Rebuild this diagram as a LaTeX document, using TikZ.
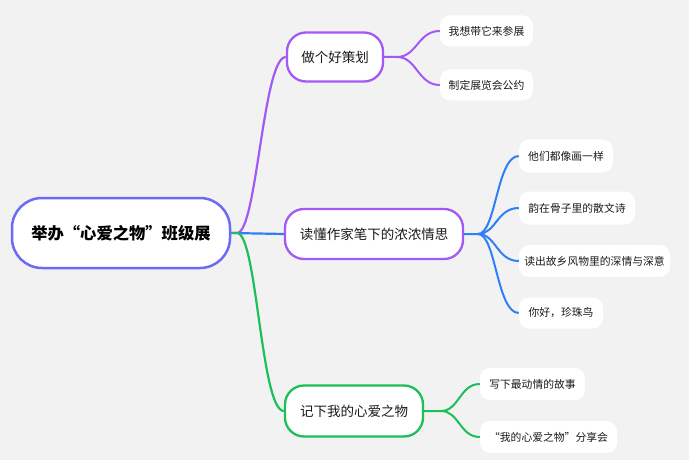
\documentclass[tikz,border=0pt]{standalone}
\usepackage{fontspec}
\setmainfont{Noto Sans CJK SC}
\definecolor{bgc}{HTML}{F2F2F2}
\definecolor{rootc}{HTML}{6B6BF7}
\definecolor{purc}{HTML}{A259F5}
\definecolor{bluc}{HTML}{2F80F7}
\definecolor{grnc}{HTML}{1DBF5A}
\definecolor{txtc}{HTML}{1A1A1A}
\tikzset{
  rootbox/.style={draw=rootc, line width=2.5pt, fill=white, rounded corners=30pt, minimum width=218pt, minimum height=70pt, inner sep=0pt, font=\fontsize{16.3}{20}\selectfont\bfseries, text=black},
  branchbox/.style={draw=#1, line width=2.3pt, fill=white, rounded corners=19pt, minimum height=49pt, inner sep=0pt, font=\fontsize{13.5}{16}\selectfont, text=txtc},
  leafbox/.style={fill=white, rounded corners=10pt, minimum height=31pt, inner sep=0pt, font=\fontsize{10.8}{13}\selectfont, text=txtc},
  mainlink/.style={line width=2.2pt, #1},
  leaflink/.style={line width=2pt, #1},
}
\begin{document}
\begin{tikzpicture}[x=1pt, y=-1pt]
\fill[bgc] (0,0) rectangle (689,460);
\useasboundingbox (0,0) rectangle (689,460);

\coordinate (rs) at (237,233);
\coordinate (s1) at (397,57);
\coordinate (s2) at (478,234);
\coordinate (s3) at (441,411);

\node[rootbox] (root) at (121,233) {举办“心爱之物”班级展};
\node[branchbox=purc, minimum width=96pt] (b1) at (335,57) {做个好策划};
\node[branchbox=purc, minimum width=178pt, minimum height=50pt] (b2) at (374,234) {读懂作家笔下的浓浓情思};
\node[branchbox=grnc, minimum width=138pt, minimum height=51pt] (b3) at (354,411) {记下我的心爱之物};

\node[leafbox, minimum width=93pt] (l11) at (486.5,31) {我想带它来参展};
\node[leafbox, minimum width=93pt] (l12) at (486.5,85) {制定展览会公约};
\node[leafbox, minimum width=94pt, minimum height=33pt] (l21) at (566,156) {他们都像画一样};
\node[leafbox, minimum width=116pt, minimum height=33pt] (l22) at (577,208) {韵在骨子里的散文诗};
\node[leafbox, minimum width=151pt, minimum height=32pt] (l23) at (594.5,261) {读出故乡风物里的深情与深意};
\node[leafbox, minimum width=84pt] (l24) at (561,313) {你好，珍珠鸟};
\node[leafbox, minimum width=105pt, minimum height=32pt] (l31) at (532.5,384) {写下最动情的故事};
\node[leafbox, minimum width=137pt, minimum height=32pt] (l32) at (548.5,437) {“我的心爱之物”分享会};

% main links
\draw[mainlink=bluc] (root.east) -- (b2.west);
\draw[mainlink=purc] (rs) .. controls +(20,0) and +(-23,0) .. (b1.west);
\draw[mainlink=grnc] (root.east) -- (rs) .. controls +(20,0) and +(-23,0) .. (b3.west);

% leaf links
\draw[leaflink=purc] (b1.east) -- (s1) .. controls +(20,0) and +(-22,0) .. (l11.west);
\draw[leaflink=purc] (s1) .. controls +(20,0) and +(-22,0) .. (l12.west);

\draw[leaflink=bluc] (b2.east) -- (s2) .. controls +(18,0) and +(-22,0) .. (l21.west);
\draw[leaflink=bluc] (s2) .. controls +(18,0) and +(-22,0) .. (l22.west);
\draw[leaflink=bluc] (s2) .. controls +(18,0) and +(-22,0) .. (l23.west);
\draw[leaflink=bluc] (s2) .. controls +(18,0) and +(-22,0) .. (l24.west);

\draw[leaflink=grnc] (b3.east) -- (s3) .. controls +(18,0) and +(-20,0) .. (l31.west);
\draw[leaflink=grnc] (s3) .. controls +(18,0) and +(-20,0) .. (l32.west);
\end{tikzpicture}
\end{document}
